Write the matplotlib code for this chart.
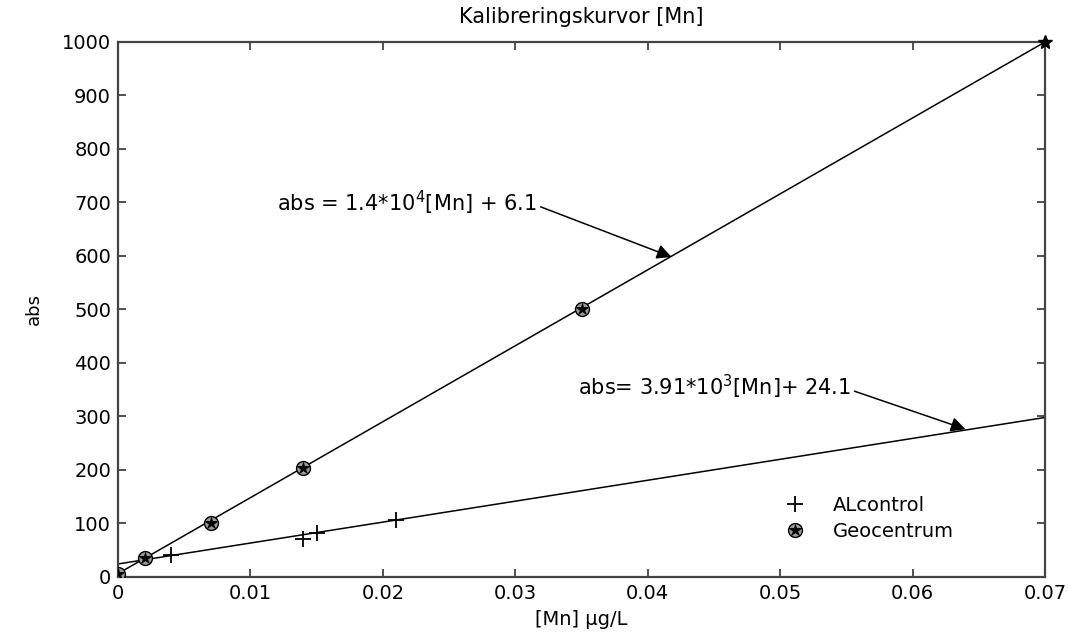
import matplotlib
matplotlib.use("Agg")
import matplotlib.pyplot as plt

# data
al_x = [0.004, 0.014, 0.015, 0.021]
al_y = [40, 71, 82, 107]
geo_x = [0.0, 0.002, 0.007, 0.014, 0.035]
geo_y = [6, 36, 101, 203, 500]
end_x = [0.07]
end_y = [1000]

fit_x = [0.0, 0.07]
fit_geo_y = [6.1, 1000]
fit_al_y = [24.1, 298]

xticks = [0, 0.01, 0.02, 0.03, 0.04, 0.05, 0.06, 0.07]
yticks = list(range(0, 1001, 100))

FS = 14

fig = plt.figure(figsize=(10.68, 6.36), dpi=100)
ax = fig.add_axes([0.1105, 0.093, 0.868, 0.841])

ax.plot(fit_x, fit_geo_y, color="black", lw=1.1, zorder=2)
ax.plot(fit_x, fit_al_y, color="black", lw=1.1, zorder=2)

al_h, = ax.plot(al_x, al_y, ls="none", marker="+", ms=12, mew=1.3,
                color="black", zorder=3)
geo_c, = ax.plot(geo_x, geo_y, ls="none", marker="o", ms=10, mfc="#9a9a9a",
                 mec="black", mew=1.0, zorder=3)
geo_s, = ax.plot(geo_x, geo_y, ls="none", marker="*", ms=9, color="black",
                 mew=0.6, zorder=4)
ax.plot(end_x, end_y, ls="none", marker="*", ms=10, color="black", zorder=4,
        clip_on=False)

arrow = dict(arrowstyle="-|>", color="black", lw=1.1, mutation_scale=22,
             shrinkA=1, shrinkB=0, relpos=(1.0, 0.4))
ax.annotate("abs = 1.4*10$^{4}$[Mn] + 6.1", xy=(0.0418, 598),
            xytext=(0.0316, 700), ha="right", va="center", fontsize=FS + 1,
            arrowprops=arrow)
ax.annotate("abs= 3.91*10$^{3}$[Mn]+ 24.1", xy=(0.0640, 276),
            xytext=(0.0553, 355), ha="right", va="center", fontsize=FS + 1,
            arrowprops=arrow)

leg = ax.legend([al_h, (geo_c, geo_s)], ["ALcontrol", "Geocentrum"],
                loc="lower right", bbox_to_anchor=(0.92, 0.035), frameon=False,
                fontsize=FS, handlelength=2.0, handletextpad=0.9,
                labelspacing=0.35)

ax.set_xlim(0, 0.07)
ax.set_ylim(0, 1000)
ax.set_xticks(xticks)
ax.set_xticklabels(["0", "0.01", "0.02", "0.03", "0.04", "0.05", "0.06", "0.07"])
ax.set_yticks(yticks)
ax.tick_params(direction="in", top=True, right=True, length=6, width=1.2,
               labelsize=FS, colors="#333333", labelcolor="black", pad=5)
for sp in ax.spines.values():
    sp.set_linewidth(1.6)
    sp.set_color("#444444")

ax.set_title("Kalibreringskurvor [Mn]", fontsize=FS + 1, pad=14)
ax.set_xlabel("[Mn] \u00b5g/L", fontsize=FS, labelpad=5)
ax.set_ylabel("abs", fontsize=FS - 1, labelpad=14)

fig.savefig("out.png", dpi=100)
